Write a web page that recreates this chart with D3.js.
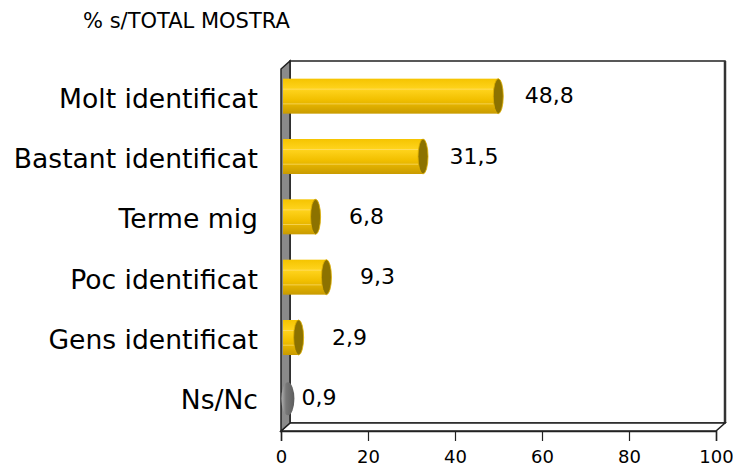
<!DOCTYPE html>
<html>
<head>
<meta charset="utf-8">
<script src="https://cdn.jsdelivr.net/npm/d3@7"></script>
<style>
  body { margin: 0; background: #fff; }
  svg { display: block; }
  text { font-family: "DejaVu Sans", sans-serif; fill: #000; }
</style>
</head>
<body>
<div id="chart"></div>
<script>
let categories = ['Molt identificat', 'Bastant identificat', 'Terme mig', 'Poc identificat', 'Gens identificat', 'Ns/Nc'];
let values = [48.8, 31.5, 6.8, 9.3, 2.9, 0.9];
let valueLabels = ['48,8', '31,5', '6,8', '9,3', '2,9', '0,9'];
let xTicks = [0, 20, 40, 60, 80, 100];
let title = '% s/TOTAL MOSTRA';

let width = 733, height = 469;
let dx = 9, dy = 8; // depth of the 3d box

let x = d3.scaleLinear().domain([0, 100]).range([281, 716]);
let y = d3.scaleBand().domain(categories).range([67, 429]).paddingInner(0.42).paddingOuter(0.21);

let $svg = d3.select('#chart').append('svg')
    .attr('width', width)
    .attr('height', height);

let defs = $svg.append('defs');
let gold = defs.append('linearGradient').attr('id', 'gold').attr('x1', 0).attr('y1', 0).attr('x2', 0).attr('y2', 1);
[['0%', '#f5c400'], ['30%', '#ffd41e'], ['60%', '#f2c000'], ['100%', '#c99b00']].forEach(([o, c]) =>
    gold.append('stop').attr('offset', o).attr('stop-color', c));
let grey = defs.append('linearGradient').attr('id', 'grey').attr('x1', 0).attr('y1', 0).attr('x2', 1).attr('y2', 0);
[['0%', '#b0b0b0'], ['35%', '#787878'], ['100%', '#5c5c5c']].forEach(([o, c]) =>
    grey.append('stop').attr('offset', o).attr('stop-color', c));

let [x0, x1] = x.range();
let yTop = 69, yBot = 431;

// back wall
$svg.append('rect')
    .attr('x', x0 + dx).attr('y', yTop - dy)
    .attr('width', x1 - x0).attr('height', yBot - yTop)
    .attr('fill', '#fff').attr('stroke', '#222').attr('stroke-width', 1.5);
$svg.append('line')
    .attr('x1', x1 + dx).attr('x2', x1 + dx)
    .attr('y1', yTop - dy).attr('y2', yBot - dy)
    .attr('stroke', '#333').attr('stroke-width', 2.5);

// floor
$svg.append('path')
    .attr('d', `M${x0},${yBot}L${x0 + dx},${yBot - dy}L${x1 + dx},${yBot - dy}L${x1},${yBot}Z`)
    .attr('fill', '#fff').attr('stroke', '#222').attr('stroke-width', 1.5);

// left wall
$svg.append('path')
    .attr('d', `M${x0},${yTop}L${x0 + dx},${yTop - dy}L${x0 + dx},${yBot - dy}L${x0},${yBot}Z`)
    .attr('fill', '#8a8a8a').attr('stroke', '#222').attr('stroke-width', 1.5);

// x axis
let axis = $svg.append('g')
    .attr('transform', `translate(0,${yBot})`)
    .call(d3.axisBottom(x).tickValues(xTicks).tickSize(10).tickPadding(9).tickFormat(d3.format('d')));
axis.select('.domain').attr('stroke', '#222').attr('stroke-width', 1.5);
axis.selectAll('.tick line').attr('stroke', '#222').attr('stroke-width', 1.2);
axis.selectAll('.tick text').attr('font-size', 18).attr('font-family', '"DejaVu Sans", sans-serif');

// bars (cylinders)
let bars = $svg.append('g').selectAll('g').data(categories).join('g');
bars.each(function (c, i) {
    let g = d3.select(this);
    let v = values[i];
    let h = y.bandwidth();
    let mid = y(c) + h / 2;
    let cy = mid - 1;
    let end = x(v) + 5;
    let rx = 5, ry = h / 2;
    let isNs = c === 'Ns/Nc';
    if (!isNs) {
        g.append('rect')
            .attr('x', x0 + 2).attr('y', cy - ry)
            .attr('width', Math.max(0, end - x0 - 2)).attr('height', h)
            .attr('fill', 'url(#gold)');
        [0.3, 0.72].forEach(f => g.append('line')
            .attr('x1', x0 + 2).attr('x2', end)
            .attr('y1', cy - ry + h * f).attr('y2', cy - ry + h * f)
            .attr('stroke', '#ffe27a').attr('stroke-width', 0.8).attr('opacity', 0.8));
        g.append('ellipse')
            .attr('cx', end).attr('cy', cy).attr('rx', rx).attr('ry', ry)
            .attr('fill', '#8c7200').attr('stroke', '#e0b000').attr('stroke-width', 0.8);
    } else {
        g.append('ellipse')
            .attr('cx', x(v) + 3).attr('cy', cy + 1).attr('rx', 6.5).attr('ry', ry - 1)
            .attr('fill', 'url(#grey)');
    }
    g.append('text')
        .attr('x', x(v) + (isNs ? 34 : 56)).attr('y', cy + 1)
        .attr('text-anchor', 'middle')
        .attr('dominant-baseline', 'middle')
        .attr('font-size', 22)
        .text(valueLabels[i]);
    g.append('text')
        .attr('x', 258).attr('y', mid + 3)
        .attr('text-anchor', 'end')
        .attr('dominant-baseline', 'middle')
        .attr('font-size', 26.6)
        .text(c);
});

// title
$svg.append('text')
    .attr('x', 83).attr('y', 28)
    .attr('font-size', 21)
    .text(title);
</script>
</body>
</html>
